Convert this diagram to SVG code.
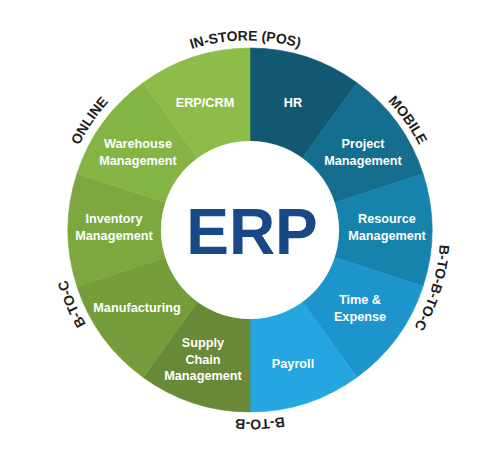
<svg xmlns="http://www.w3.org/2000/svg" width="500" height="459" viewBox="0 0 500 459">
<defs>
<style>
.lbl{font-family:"Liberation Sans",Arial,sans-serif;font-weight:700;font-size:12.7px;fill:#ffffff;text-anchor:middle}
.out{font-family:"Liberation Sans",Arial,sans-serif;font-weight:700;font-size:14px;fill:#1e1e1e;text-anchor:middle}
.erp{font-family:"Liberation Sans",Arial,sans-serif;font-weight:700;font-size:64px;fill:#184987;text-anchor:middle}
</style>
<path id="ring" d="M 142.2,384 A 188 188 0 1 1 357.8,76 A 188 188 0 1 1 142.2,384"/>
</defs>
<rect width="500" height="459" fill="#ffffff"/>
<g id="seg-hr">
<path d="M 250,48 A182 182 0 0 1 357.0,82.8 L 302.3,158.0 A89 89 0 0 0 250,141 Z" fill="#135873" stroke="#135873" stroke-width="0.6"/>
<text class="lbl" x="293" y="107">HR</text>
</g>
<g id="seg-project">
<path d="M 357.0,82.8 A182 182 0 0 1 423.1,173.8 L 334.6,202.5 A89 89 0 0 0 302.3,158.0 Z" fill="#166e8f" stroke="#166e8f" stroke-width="0.6"/>
<text class="lbl" x="363" y="147.5">Project</text>
<text class="lbl" x="363" y="165">Management</text>
</g>
<g id="seg-resource">
<path d="M 423.1,173.8 A182 182 0 0 1 423.1,286.2 L 334.6,257.5 A89 89 0 0 0 334.6,202.5 Z" fill="#1683ac" stroke="#1683ac" stroke-width="0.6"/>
<text class="lbl" x="387" y="222.5">Resource</text>
<text class="lbl" x="387" y="239.5">Management</text>
</g>
<g id="seg-time">
<path d="M 423.1,286.2 A182 182 0 0 1 357.0,377.2 L 302.3,302.0 A89 89 0 0 0 334.6,257.5 Z" fill="#1e94cd" stroke="#1e94cd" stroke-width="0.6"/>
<text class="lbl" x="360" y="303.5">Time &amp;</text>
<text class="lbl" x="360" y="321">Expense</text>
</g>
<g id="seg-payroll">
<path d="M 357.0,377.2 A182 182 0 0 1 250,412 L 250,319 A89 89 0 0 0 302.3,302.0 Z" fill="#26a6e0" stroke="#26a6e0" stroke-width="0.6"/>
<text class="lbl" x="293" y="367.5">Payroll</text>
</g>
<g id="seg-supply">
<path d="M 250,412 A182 182 0 0 1 143.0,377.2 L 197.7,302.0 A89 89 0 0 0 250,319 Z" fill="#688937" stroke="#688937" stroke-width="0.6"/>
<text class="lbl" x="203" y="347">Supply</text>
<text class="lbl" x="203" y="363.5">Chain</text>
<text class="lbl" x="203" y="380">Management</text>
</g>
<g id="seg-manufacturing">
<path d="M 143.0,377.2 A182 182 0 0 1 76.9,286.2 L 165.4,257.5 A89 89 0 0 0 197.7,302.0 Z" fill="#759d3c" stroke="#759d3c" stroke-width="0.6"/>
<text class="lbl" x="137" y="311.5">Manufacturing</text>
</g>
<g id="seg-inventory">
<path d="M 76.9,286.2 A182 182 0 0 1 76.9,173.8 L 165.4,202.5 A89 89 0 0 0 165.4,257.5 Z" fill="#7da840" stroke="#7da840" stroke-width="0.6"/>
<text class="lbl" x="114" y="223">Inventory</text>
<text class="lbl" x="114" y="239.5">Management</text>
</g>
<g id="seg-warehouse">
<path d="M 76.9,173.8 A182 182 0 0 1 143.0,82.8 L 197.7,158.0 A89 89 0 0 0 165.4,202.5 Z" fill="#84b444" stroke="#84b444" stroke-width="0.6"/>
<text class="lbl" x="138" y="148">Warehouse</text>
<text class="lbl" x="138" y="165">Management</text>
</g>
<g id="seg-erpcrm">
<path d="M 143.0,82.8 A182 182 0 0 1 250,48 L 250,141 A89 89 0 0 0 197.7,158.0 Z" fill="#8dbd48" stroke="#8dbd48" stroke-width="0.6"/>
<text class="lbl" x="205" y="107">ERP/CRM</text>
</g>
<g id="center">
<circle cx="250" cy="230" r="89" fill="#ffffff"/>
<text class="erp" x="252" y="254">ERP</text>
</g>
<g id="channels">
<text class="out"><textPath href="#ring" startOffset="475.8">IN-STORE (POS)</textPath></text>
<text class="out"><textPath href="#ring" startOffset="662.1">MOBILE</textPath></text>
<text class="out"><textPath href="#ring" startOffset="835.4">B-TO-B-TO-C</textPath></text>
<text class="out"><textPath href="#ring" startOffset="1066.4">B-TO-B</textPath></text>
<text class="out"><textPath href="#ring" startOffset="107.0">B-TO-C</textPath></text>
<text class="out"><textPath href="#ring" startOffset="295.3">ONLINE</textPath></text>
</g>
</svg>
